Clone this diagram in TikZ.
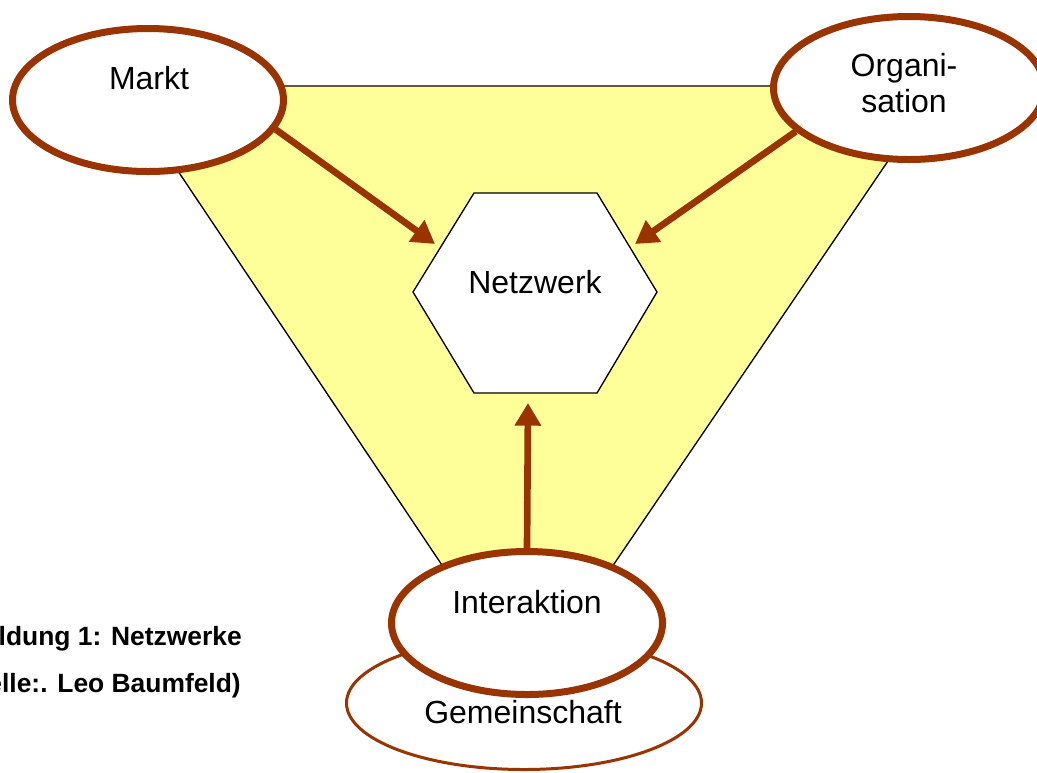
\documentclass[tikz,border=0pt]{standalone}
\usepackage{fontspec}
\setmainfont{Liberation Sans}
\usetikzlibrary{arrows.meta,shapes.geometric}
\definecolor{brn}{RGB}{153,51,0}
\definecolor{pale}{RGB}{255,255,153}
\pgfdeclarelayer{back}
\pgfdeclarelayer{mid}
\pgfsetlayers{back,mid,main}
\begin{document}
\begin{tikzpicture}[x=0.75pt,y=-0.75pt,
  bigell/.style={ellipse,draw=brn,line width=5.25pt,fill=white,minimum width=203.25pt,minimum height=107.25pt,inner sep=0pt},
  lbl/.style={font=\fontsize{24}{28}\selectfont,inner sep=0pt,anchor=base},
  arr/.style={draw=brn,line width=5pt,-{Triangle[length=17pt,width=19pt]}},
  capt/.style={font=\fontsize{19.8}{22}\selectfont\bfseries,inner sep=0pt,anchor=base east},
  thin/.style={draw=black,line width=1pt}]
\useasboundingbox (0,0) rectangle (1037,772);
\clip (0,0) rectangle (1037,772);
% triangle
\coordinate (t1) at (121,86);
\coordinate (t2) at (939,86);
\coordinate (t3) at (527,692);
\begin{pgfonlayer}{back}
\filldraw[thin,fill=pale] (t1) -- (t2) -- (t3) -- cycle;
\end{pgfonlayer}
% hexagon
\coordinate (h1) at (413,292);
\coordinate (h2) at (474,193);
\coordinate (h3) at (597,193);
\coordinate (h4) at (657,292);
\coordinate (h5) at (597,393);
\coordinate (h6) at (474,393);
\filldraw[thin,fill=white] (h1) -- (h2) -- (h3) -- (h4) -- (h5) -- (h6) -- cycle;
\node[lbl] (netT) at (535,293) {Netzwerk};
% ellipses
\node[ellipse,draw=brn,line width=2.25pt,fill=white,minimum width=266.25pt,minimum height=99.75pt,inner sep=0pt] (gem) at (524,703) {};
\node[bigell] (inter) at (527,623) {};
\node[bigell] (markt) at (148,100) {};
\node[bigell] (org) at (909,88) {};
% arrows
\coordinate (tA) at (435,244);
\coordinate (tB) at (635,244);
\coordinate (tC) at (528,403);
\begin{pgfonlayer}{mid}
\draw[arr] (markt.-13) -- (tA);
\draw[arr] (org.201) -- (tB);
\draw[arr] (inter.north) -- (tC);
\end{pgfonlayer}
% labels
\node[lbl] (marktT) at (149,89) {Markt};
\node[lbl] (orgT1) at (904,76) {Organi-};
\node[lbl] (orgT2) at (904,112) {sation};
\node[lbl] (interT) at (527,613) {Interaktion};
\node[lbl] (gemT) at (523,723) {Gemeinschaft};
% caption
\node[capt] (cap1) at (242,645) {Abbildung 1: Netzwerke};
\node[capt] (cap2) at (241,692) {(Quelle:. Leo Baumfeld)};
\end{tikzpicture}
\end{document}
